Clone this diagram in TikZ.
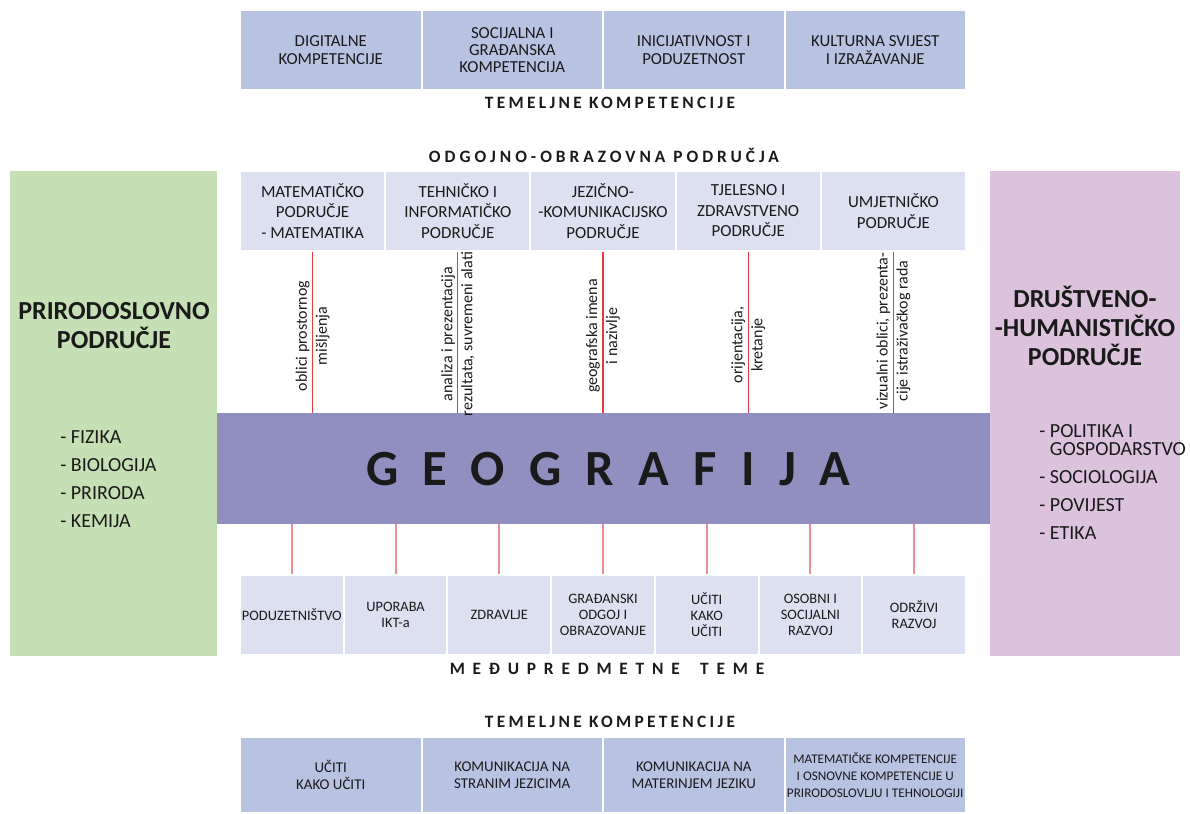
\documentclass[tikz,border=0pt]{standalone}
\usepackage{fontspec}
\setmainfont{Carlito}
\definecolor{compblue}{HTML}{B8C3E2}
\definecolor{lightlav}{HTML}{DDE0F0}
\definecolor{geobar}{HTML}{908FC0}
\definecolor{greenbox}{HTML}{C5E0B4}
\definecolor{purplebox}{HTML}{DCC2DD}
\definecolor{txt}{HTML}{1A1A1A}
\definecolor{redline}{HTML}{E8393C}
\definecolor{pinkline}{HTML}{EE8E8E}
\tikzset{
  cell/.style={draw=white, line width=1.5pt, inner sep=0pt, align=center, text=txt},
  topcell/.style={cell, fill=compblue, minimum width=181.5*0.75pt, minimum height=80*0.75pt,
     font=\fontsize{12.6}{13}\selectfont},
  botcell/.style={cell, fill=compblue, minimum width=181.5*0.75pt, minimum height=76*0.75pt,
     font=\fontsize{11.2}{12.4}\selectfont},
  ocell/.style={cell, fill=lightlav, minimum width=145.2*0.75pt, minimum height=80*0.75pt,
     font=\fontsize{12.7}{15.4}\selectfont},
  mcell/.style={cell, fill=lightlav, minimum width=103.71*0.75pt, minimum height=80*0.75pt,
     font=\fontsize{10.8}{12}\selectfont},
  heading/.style={inner sep=0pt, text=txt},
  rotlabel/.style={rotate=90, align=center, inner sep=0pt, text=txt,
     font=\fontsize{12}{15}\selectfont},
  upline/.style={draw=redline, line width=0.8pt},
  lowline/.style={draw=pinkline, line width=1.5pt},
  sidebox/.style={inner sep=0pt, draw=none},
  sidetitle/.style={align=center, inner sep=0pt, text=txt, font=\fontsize{19.5}{21.8}\selectfont\bfseries},
  sidelist/.style={align=left, inner sep=0pt, text=txt, anchor=west},
}
\begin{document}
\begin{tikzpicture}[x=0.75pt,y=-0.75pt]
\useasboundingbox (0,0) rectangle (1190,814);

% side boxes
\node[sidebox, fill=greenbox, minimum width=207*0.75pt, minimum height=485*0.75pt] (green) at (113.5,413.5) {};
\node[sidebox, fill=purplebox, minimum width=190*0.75pt, minimum height=485*0.75pt] (purple) at (1085,413.5) {};

% geography bar
\node[inner sep=0pt, fill=geobar, minimum width=773*0.75pt, minimum height=111*0.75pt] (geo) at (603.5,468.5) {};
\node[heading, font=\fontsize{38}{40}\selectfont\bfseries\addfontfeature{LetterSpace=48}] (geotext) at (608,469) {GEOGRAFIJA};

% top competences
\node[topcell] (t1) at (330.75,50) {DIGITALNE\\KOMPETENCIJE};
\node[topcell] (t2) at (512.25,50) {SOCIJALNA I\\GRAĐANSKA\\KOMPETENCIJA};
\node[topcell] (t3) at (693.75,50) {INICIJATIVNOST I\\PODUZETNOST};
\node[topcell] (t4) at (875.25,50) {KULTURNA SVIJEST\\I IZRAŽAVANJE};
\node[heading, font=\fontsize{13}{14}\selectfont\bfseries\addfontfeature{LetterSpace=19}] (h1) at (610,103) {TEMELJNE KOMPETENCIJE};

% odgojno-obrazovna podrucja
\node[heading, font=\fontsize{13}{14}\selectfont\bfseries\addfontfeature{LetterSpace=23}] (h2) at (604,155) {ODGOJNO-OBRAZOVNA PODRUČJA};
\node[ocell] (o1) at (312.6,211) {MATEMATIČKO\\PODRUČJE\\- MATEMATIKA};
\node[ocell] (o2) at (457.8,211) {TEHNIČKO I\\INFORMATIČKO\\PODRUČJE};
\node[ocell] (o3) at (603,211) {JEZIČNO-\\-KOMUNIKACIJSKO\\PODRUČJE};
\node[ocell] (o4) at (748.2,211) {TJELESNO I\\ZDRAVSTVENO\\PODRUČJE};
\node[ocell] (o5) at (893.4,211) {UMJETNIČKO\\PODRUČJE};

% upper connectors
\foreach \i in {1,...,5} {\draw[upline] (o\i.south) -- (o\i.south |- geo.north);}

% rotated labels
\node[rotlabel] (l1) at (312.6,336) {oblici prostornog\\mišljenja};
\node[rotlabel] (l2) at (457.8,334) {analiza i prezentacija\\rezultata, suvremeni alati};
\node[rotlabel] (l3) at (603,336) {geografska imena\\i nazivlje};
\node[rotlabel] (l4) at (748.2,345) {orijentacija,\\kretanje};
\node[rotlabel] (l5) at (893.4,331) {vizualni oblici, prezenta-\\cije istraživačkog rada};

% meduprecmetne teme
\node[mcell] (m1) at (291.86,615) {PODUZETNIŠTVO};
\node[mcell] (m2) at (395.57,615) {UPORABA\\IKT-a};
\node[mcell] (m3) at (499.29,615) {ZDRAVLJE};
\node[mcell] (m4) at (603,615) {GRAĐANSKI\\ODGOJ I\\OBRAZOVANJE};
\node[mcell] (m5) at (706.71,615) {UČITI\\KAKO\\UČITI};
\node[mcell] (m6) at (810.43,615) {OSOBNI I\\SOCIJALNI\\RAZVOJ};
\node[mcell] (m7) at (914.14,615) {ODRŽIVI\\RAZVOJ};
\foreach \i in {1,...,7} {\draw[lowline] (geo.south -| m\i.north) -- (m\i.north);}
\node[heading, font=\fontsize{13}{14}\selectfont\bfseries\addfontfeature{LetterSpace=45}] (h3) at (607,669) {MEĐUPREDMETNE\hspace{0.5em} TEME};

% bottom competences
\node[heading, font=\fontsize{13}{14}\selectfont\bfseries\addfontfeature{LetterSpace=19}] (h4) at (610,722) {TEMELJNE KOMPETENCIJE};
\node[botcell] (b1) at (330.75,775) {UČITI\\KAKO UČITI};
\node[botcell] (b2) at (512.25,775) {KOMUNIKACIJA NA\\STRANIM JEZICIMA};
\node[botcell] (b3) at (693.75,775) {KOMUNIKACIJA NA\\MATERINJEM JEZIKU};
\node[botcell, font=\fontsize{9.9}{12.75}\selectfont] (b4) at (875.25,775) {MATEMATIČKE KOMPETENCIJE\\I OSNOVNE KOMPETENCIJE U\\PRIRODOSLOVLJU I TEHNOLOGIJI};

% side texts
\node[sidetitle] (gtitle) at (114,326) {PRIRODOSLOVNO\\PODRUČJE};
\node[sidelist, font=\fontsize{15}{21}\selectfont] (glist) at (60,479) {- FIZIKA\\- BIOLOGIJA\\- PRIRODA\\- KEMIJA};
\node[sidetitle] (ptitle) at (1085,326) {DRUŠTVENO-\\-HUMANISTIČKO\\PODRUČJE};
\node[sidelist, font=\fontsize{15}{13.5}\selectfont] (plist) at (1039,482) {- POLITIKA I\\\hphantom{- }GOSPODARSTVO\\[7.5pt]- SOCIOLOGIJA\\[7.5pt]- POVIJEST\\[7.5pt]- ETIKA};
\end{tikzpicture}
\end{document}
